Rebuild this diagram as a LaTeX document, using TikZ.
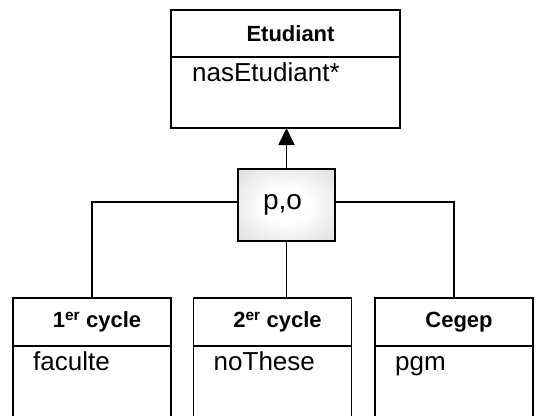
\documentclass[tikz,border=0pt]{standalone}
\usepackage{fontspec}
\setmainfont{Liberation Sans}
\usetikzlibrary{positioning, arrows.meta, calc}

\pgfdeclareradialshading{halo}{\pgfpoint{0bp}{0bp}}{color(0bp)=(white); color(12bp)=(white); color(50bp)=(gray!42); color(71bp)=(gray!62)}

\begin{document}
\begin{tikzpicture}[x=1pt, y=-1pt]
	\tikzset{
		titre/.style={draw, line width=1.8pt, outer sep=0pt, minimum width=158pt, minimum height=48pt, inner sep=0pt, font=\fontsize{22}{25}\selectfont\bfseries, execute at begin node=\hspace*{10pt}},
		attrs/.style={draw, line width=1.8pt, outer sep=0pt, minimum width=158pt, minimum height=90pt, anchor=north, inner sep=0pt},
		attr/.style={anchor=base west, inner sep=0pt, font=\fontsize{26}{29}\selectfont},
		lien/.style={line width=1.8pt},
	}
	\useasboundingbox (0,0) rectangle (554,415);
	\clip (0,0) rectangle (554,415);
	
	% Superclass
	\node[titre, minimum width=229pt, minimum height=47pt] (etud) at (285.5,33.5) {Etudiant};
	\node[attrs, minimum width=229pt, minimum height=71pt] (etudA) at (etud.south) {};
	\node[attr] (etudT) at ($(etudA.north west)+(21,24)$) {nasEtudiant*};
	
	% Contrainte
	\node[draw, line width=1.8pt, minimum width=97pt, minimum height=72pt, shading=halo, font=\fontsize{28}{30}\selectfont] (po) at (286.5,205) {p,o\hspace*{8pt}};
	
	% Subclasses
	\node[titre] (c1) at (92,322) {1\textsuperscript{er} cycle};
	\node[attrs] (c1A) at (c1.south) {};
	\node[attr] (c1T) at ($(c1A.north west)+(20,24)$) {faculte};
	\node[titre] (c2) at (272.5,322) {2\textsuperscript{er} cycle};
	\node[attrs] (c2A) at (c2.south) {};
	\node[attr] (c2T) at ($(c2A.north west)+(20,24)$) {noThese};
	\node[titre] (cegep) at (454,322) {Cegep};
	\node[attrs] (cegepA) at (cegep.south) {};
	\node[attr] (cegepT) at ($(cegepA.north west)+(20,24)$) {pgm};
	
	% Connecting lines
	\draw[lien, -{Triangle[width=16pt,length=17pt]}] (po.north) -- (po.north |- etudA.south);
	\draw[lien] ($(po.west)+(0,-3)$) -| (c1.north);
	\draw[lien] ($(po.east)+(0,-3)$) -| (cegep.north);
	\draw[lien] (po.south) -- (po.south |- c2.north);
\end{tikzpicture}
\end{document}
